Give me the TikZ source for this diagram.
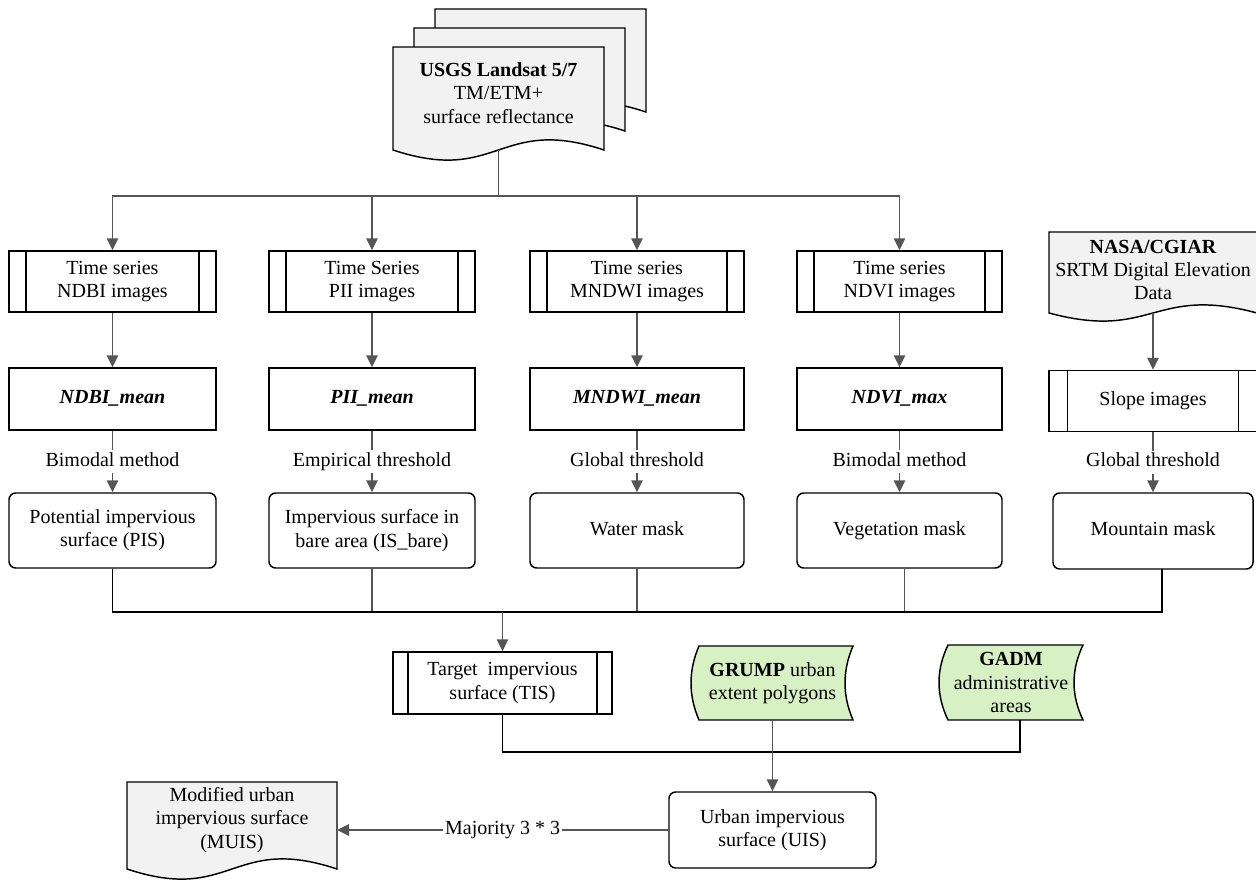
\documentclass[tikz,border=0pt]{standalone}
\usepackage{fontspec}
\setmainfont{Liberation Serif}
\usetikzlibrary{arrows.meta,calc}
\definecolor{docgray}{RGB}{242,242,242}
\definecolor{dgreen}{RGB}{216,241,196}
\definecolor{conngray}{RGB}{85,85,85}
\tikzset{
  every node/.style={font=\fontsize{15}{17.5}\selectfont, align=center, inner sep=0pt},
  sz/.style 2 args={minimum width=#1*0.75pt, minimum height=#2*0.75pt},
  oneline/.style={text height=10.5pt, text depth=3.5pt},
  plainbox/.style={draw=black, line width=1.1pt, fill=white},
  rbox/.style={draw=black, line width=1.1pt, fill=white, rounded corners=5pt},
  proc/.style={draw=black, line width=1.1pt, fill=white,
    path picture={\draw[line width=1.1pt]
      ([xshift=#1]path picture bounding box.north west) -- ([xshift=#1]path picture bounding box.south west)
      ([xshift=-#1]path picture bounding box.north east) -- ([xshift=-#1]path picture bounding box.south east);}},
  proc/.default=12.75pt,
  conn/.style={draw=conngray, line width=1.3pt},
  arr/.style={conn, -{Triangle[width=8.5pt,length=9pt]}},
  comb/.style={draw=black, line width=1.4pt},
  lbl/.style={fill=white, inner sep=1.5pt, oneline}
}
\newcommand\docshape[5]{\path[draw=black,line width=1.1pt,fill=docgray] (#1,#2) -- (#3,#2) -- (#3,#4) .. controls ({(#1+#3)/2},{#4-#5}) and ({(#1+#3)/2},{#4+#5}) .. (#1,#4) -- cycle;}
\newcommand\storedshape[5]{\path[draw=black,line width=1.1pt,fill=dgreen] ({#1+#5},#2) -- (#3,#2) .. controls ({#3-4*#5/3},{#2+(#4-#2)/3}) and ({#3-4*#5/3},{#4-(#4-#2)/3}) .. (#3,#4) -- ({#1+#5},#4) .. controls ({#1-#5/3},{#4-(#4-#2)/3}) and ({#1-#5/3},{#2+(#4-#2)/3}) .. ({#1+#5},#2) -- cycle;}
\begin{document}
\begin{tikzpicture}[x=0.75pt,y=-0.75pt]
\useasboundingbox (0,0) rectangle (1256,880);

% Landsat stack
\docshape{435}{9}{646}{112}{35}
\docshape{414}{28}{625}{131}{35}
\docshape{393}{47}{604}{150}{35}
\node (lsat) at (498.5,93) {\textbf{USGS Landsat 5/7}\\TM/ETM+\\surface reflectance};
\coordinate (lsatb) at (498.5,150);
\coordinate (hub) at (498.5,196);

% NASA doc
\docshape{1049}{232}{1257}{313}{28}
\node (nasa) at (1153,270) {\textbf{NASA/CGIAR}\\SRTM Digital Elevation\\Data};
\coordinate (nasab) at (1153,313);

% Row 1
\node[proc, sz={207}{61}] (ndbi) at (112.5,281.5) {Time series\\NDBI images};
\node[proc, sz={206}{61}] (pii) at (372,281.5) {Time Series\\PII images};
\node[proc, sz={214}{61}] (mndwi) at (637,281.5) {Time series\\MNDWI images};
\node[proc, sz={205}{61}] (ndvi) at (899.5,281.5) {Time series\\NDVI images};

% Row 2
\node[plainbox, oneline, sz={207}{62}] (ndbim) at (112.5,399) {\textbf{\textit{NDBI\_mean}}};
\node[plainbox, oneline, sz={206}{62}] (piim) at (372,399) {\textbf{\textit{PII\_mean}}};
\node[plainbox, oneline, sz={214}{62}] (mndwim) at (637,399) {\textbf{\textit{MNDWI\_mean}}};
\node[plainbox, oneline, sz={205}{62}] (ndvim) at (899.5,399) {\textbf{\textit{NDVI\_max}}};
\node[proc=14pt, oneline, sz={208}{61}] (slope) at (1153,401) {Slope images};

% Row 3
\node[rbox, sz={207}{75}] (pis) at (112.5,530.5) {Potential impervious\\surface (PIS)};
\node[rbox, sz={206}{75}] (isb) at (372,530.5) {Impervious surface in\\bare area (IS\_bare)};
\node[rbox, oneline, sz={214}{75}] (water) at (637,530.5) {Water mask};
\node[rbox, oneline, sz={205}{75}] (veg) at (899.5,530.5) {Vegetation mask};
\node[rbox, oneline, sz={200}{76}] (mm) at (1153,531) {Mountain mask};

% TIS, GRUMP, GADM
\node[proc=11.25pt, sz={219}{62}] (tis) at (502.5,683) {Target\ \ impervious\\surface (TIS)};
\storedshape{691}{646}{853}{720}{8}
\node[sz={162}{74}] (grump) at (772.5,683) {\textbf{GRUMP} urban\\extent polygons};
\storedshape{939}{645}{1083}{720}{9}
\node[sz={144}{75}] (gadm) at (1011,682.5) {\textbf{GADM}\\administrative\\areas};

% UIS, MUIS
\node[rbox, sz={207}{76}] (uis) at (772.5,830) {Urban impervious\\surface (UIS)};
\docshape{127}{782}{337}{869}{35}
\node (muis) at (232,820) {Modified urban\\impervious surface\\(MUIS)};
\coordinate (muisR) at (337,830);

% header connectors
\draw[conn] (lsatb) -- (hub);
\draw[arr] (hub) -| (ndbi.north);
\draw[arr] (hub) -| (pii.north);
\draw[arr] (hub) -| (mndwi.north);
\draw[arr] (hub) -| (ndvi.north);
\draw[arr] (nasab) -- (slope.north);

% row1 -> row2
\draw[arr] (ndbi) -- (ndbim);
\draw[arr] (pii) -- (piim);
\draw[arr] (mndwi) -- (mndwim);
\draw[arr] (ndvi) -- (ndvim);

% row2 -> row3 with labels
\draw[arr] (ndbim) -- node[lbl] {Bimodal method} (pis);
\draw[arr] (piim) -- node[lbl] {Empirical threshold} (isb);
\draw[arr] (mndwim) -- node[lbl] {Global threshold} (water);
\draw[arr] (ndvim) -- node[lbl] {Bimodal method} (veg);
\draw[arr] (slope.south -| mm.north) -- node[lbl] {Global threshold} (mm.north);

% combining bus
\coordinate (bus) at (502.5,612);
\coordinate (busR) at (1162,612);
\coordinate (mmb) at (1162,569);
\draw[conn] (isb.south) -- (isb.south |- bus);
\draw[conn] (water.south) -- (water.south |- bus);
\draw[conn] ($(veg.south)+(5,0)$) -- ($(veg.south)+(5,44)$);
\draw[comb] (pis.south) |- (busR) -- (mmb);
\draw[arr] (bus) -- (tis.north);

% lower bus
\coordinate (bus2) at (1020,752);
\coordinate (gadmb) at (1020,720);
\draw[comb] (tis.south) |- (bus2) -- (gadmb);
\draw[arr] (grump.south) -- (uis.north);

% final arrow
\draw[arr] (uis.west) -- node[lbl, pos=0.5] {Majority 3 * 3} (muisR);
\end{tikzpicture}
\end{document}
